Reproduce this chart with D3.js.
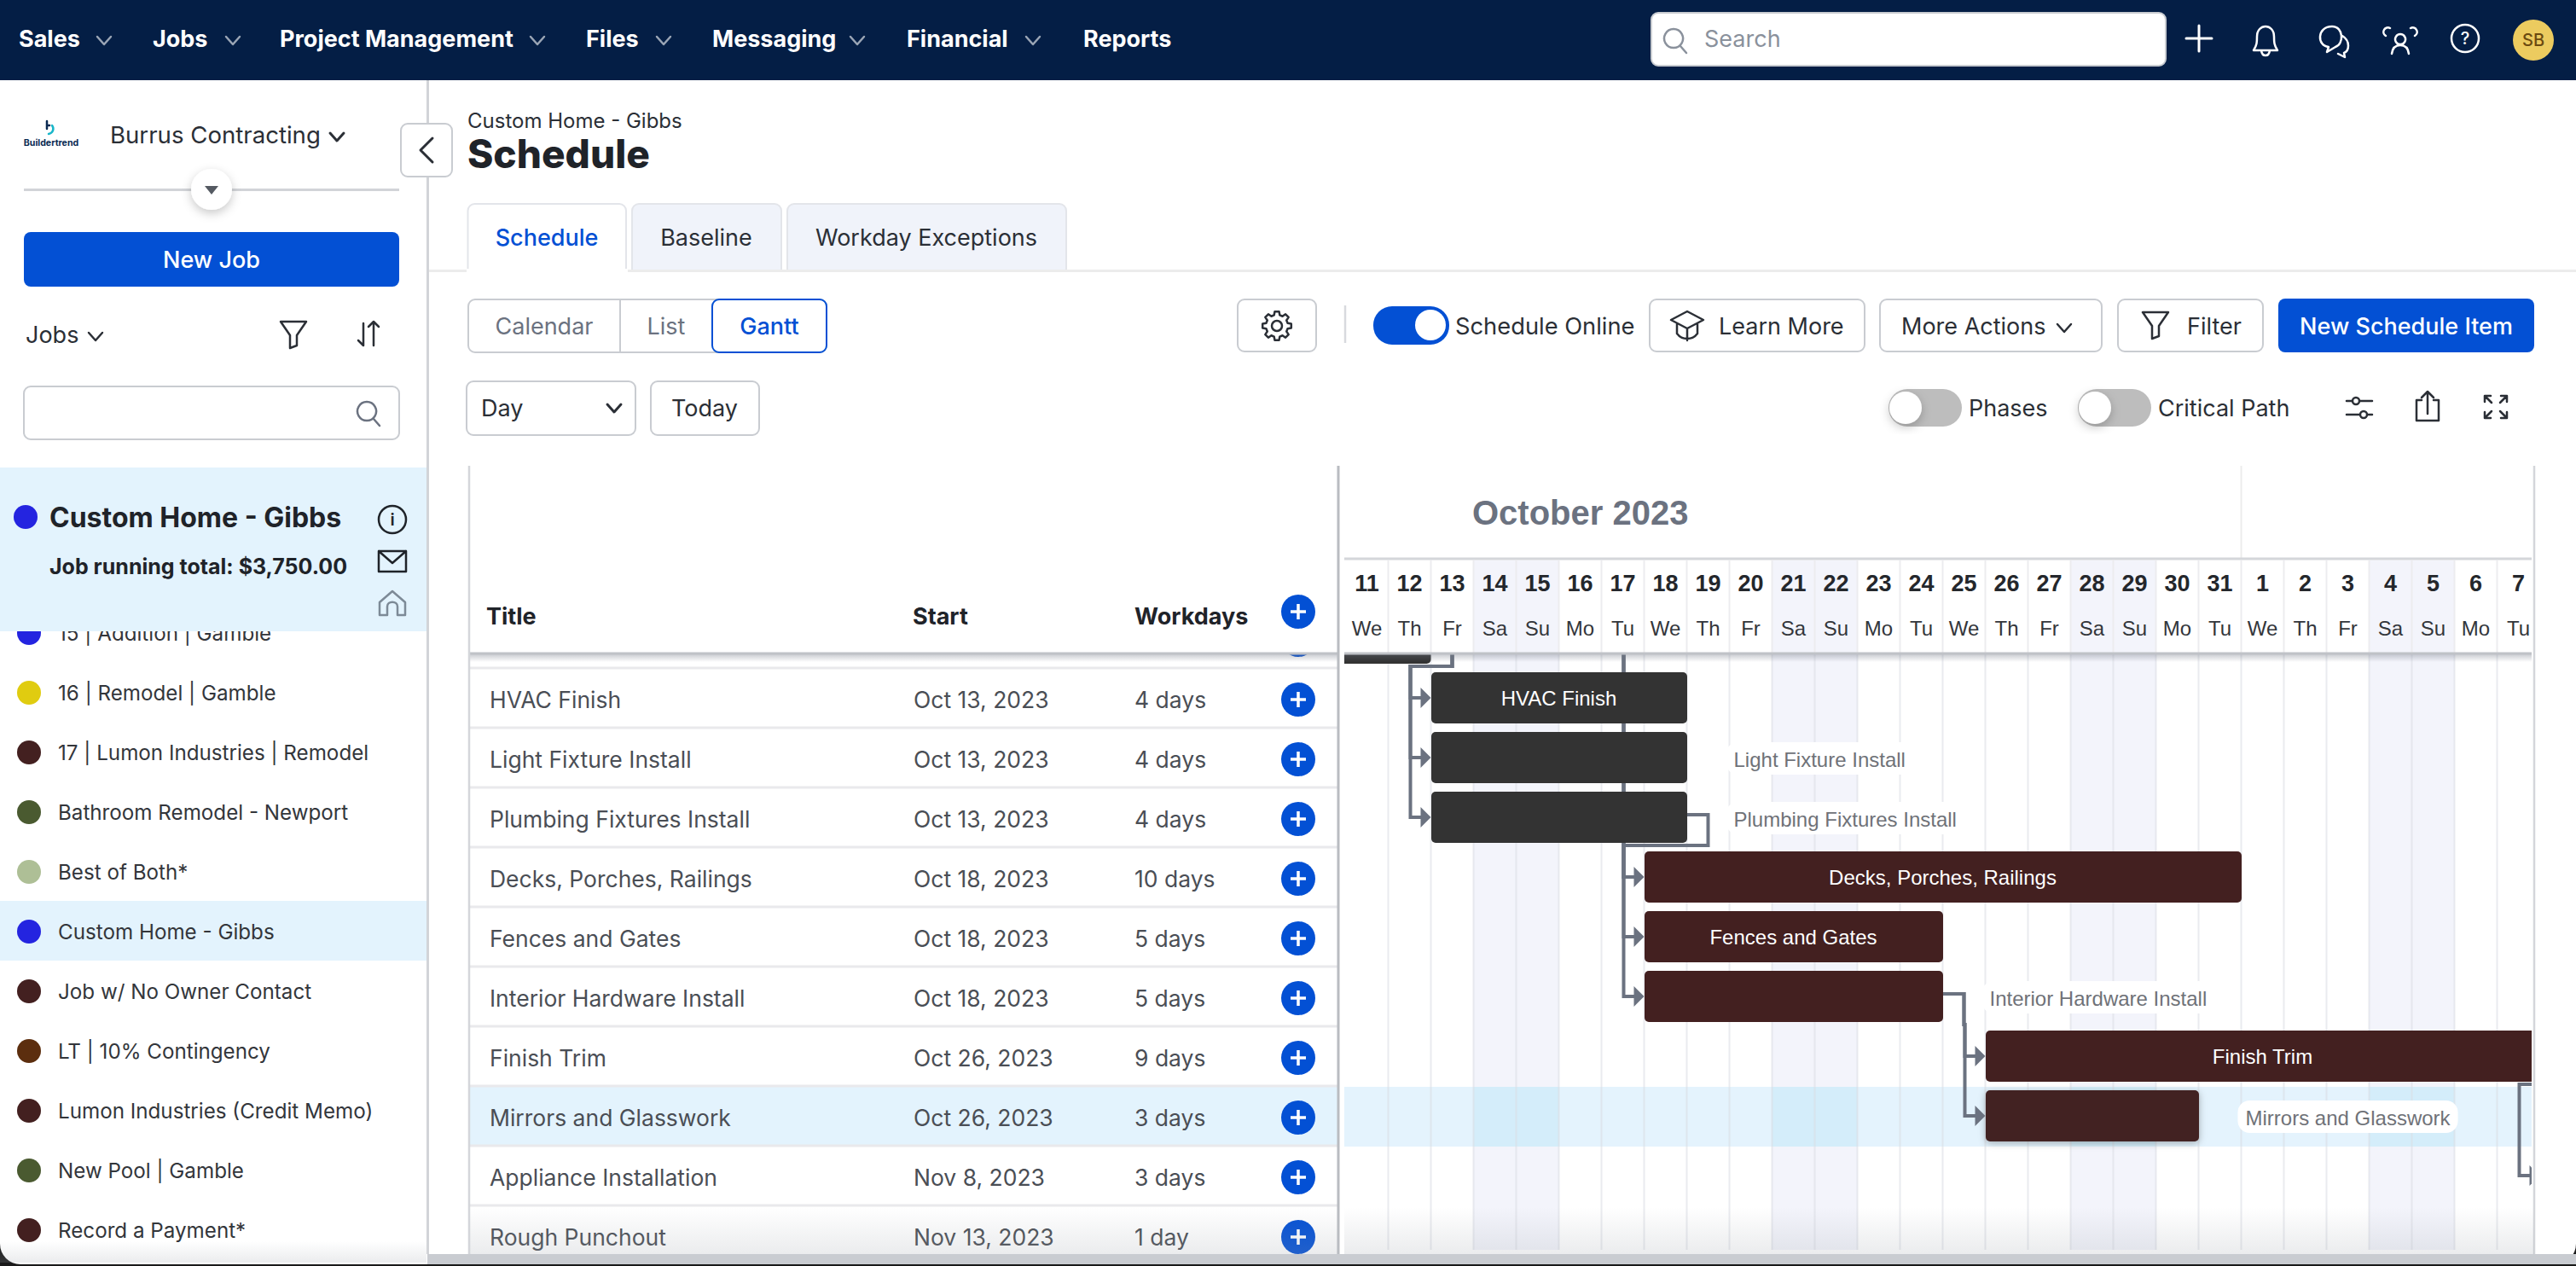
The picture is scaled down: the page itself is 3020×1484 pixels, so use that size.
<!DOCTYPE html>
<html>
<head>
  <meta charset="UTF-8">
  <style>
    html, body { margin: 0; padding: 0; background: #1a1a1a; overflow: hidden; }
    svg { display: block; }
    text { font-family: Inter, "Noto Sans", sans-serif; }
    .gantt text { font-family: "Liberation Sans", Arial, sans-serif; }
    .ico { fill: none; stroke-linecap: round; stroke-linejoin: round; }
  </style>
</head>
<body>
<svg></svg>
<script src="https://d3js.org/d3.v7.min.js"></script>

<script>

let width = 3020, height = 1484;

// schedule table
let rowTitles = ["HVAC Finish", "Light Fixture Install", "Plumbing Fixtures Install", "Decks, Porches, Railings", "Fences and Gates", "Interior Hardware Install", "Finish Trim", "Mirrors and Glasswork", "Appliance Installation", "Rough Punchout"];
let rowStarts = ["Oct 13, 2023", "Oct 13, 2023", "Oct 13, 2023", "Oct 18, 2023", "Oct 18, 2023", "Oct 18, 2023", "Oct 26, 2023", "Oct 26, 2023", "Nov 8, 2023", "Nov 13, 2023"];
let rowWorkdays = ["4 days", "4 days", "4 days", "10 days", "5 days", "5 days", "9 days", "3 days", "3 days", "1 day"];

// bars, end date is the morning after the last workday
let barEnds = ["Oct 19, 2023", "Oct 19, 2023", "Oct 19, 2023", "Nov 1, 2023", "Oct 25, 2023", "Oct 25, 2023", "Nov 8, 2023", "Oct 31, 2023", "Nov 13, 2023", "Nov 14, 2023"];
let barColors = ["#333333", "#333333", "#333333", "#432020", "#432020", "#432020", "#432020", "#432020", "#432020", "#432020"];
let labelInside = [true, false, false, true, true, false, true, false, false, false];

// bar above the visible rows, only its bottom edge shows
let hiddenBarEnd = "Oct 13, 2023";

// dependency links: source row, its end date, target rows
let linkSources = [-2, -1, 2, 5, 6];
let linkEnds = ["Oct 17, 2023", "Oct 13, 2023", "Oct 19, 2023", "Oct 25, 2023", "Nov 8, 2023"];
let linkTargets = [[3, 4, 5], [0, 1, 2], [3], [6, 7], [8]];

// time axis
let dayNumbers = [11, 12, 13, 14, 15, 16, 17, 18, 19, 20, 21, 22, 23, 24, 25, 26, 27, 28, 29, 30, 31, 1, 2, 3, 4, 5, 6, 7];
let dayNames = ["We", "Th", "Fr", "Sa", "Su", "Mo", "Tu", "We", "Th", "Fr", "Sa", "Su", "Mo", "Tu", "We", "Th", "Fr", "Sa", "Su", "Mo", "Tu", "We", "Th", "Fr", "Sa", "Su", "Mo", "Tu"];

// left job list
let jobNames = ["15 | Addition | Gamble", "16 | Remodel | Gamble", "17 | Lumon Industries | Remodel", "Bathroom Remodel - Newport", "Best of Both*", "Custom Home - Gibbs", "Job w/ No Owner Contact", "LT | 10% Contingency", "Lumon Industries (Credit Memo)", "New Pool | Gamble", "Record a Payment*"];
let jobColors = ["#2424e0", "#e0cc10", "#432020", "#4a5a30", "#aebf96", "#2424e0", "#432020", "#5c2e0e", "#432020", "#4a5a30", "#432020"];

// top nav
let navItems = ["Sales", "Jobs", "Project Management", "Files", "Messaging", "Financial", "Reports"];
let navX = [22, 179, 328, 687, 835, 1063, 1270];
let navChevronX = [122, 273, 630, 778, 1005, 1211, null];

let svg = d3.select("svg")
    .attr("width", width)
    .attr("height", height)
    .attr("viewBox", "0 0 " + width + " " + height);

let defs = svg.append("defs");

function addShadow(id, dy, blur, opacity) {
    defs.append("filter").attr("id", id)
        .attr("x", "-30%").attr("y", "-30%").attr("width", "160%").attr("height", "160%")
        .append("feDropShadow")
        .attr("dx", 0).attr("dy", dy).attr("stdDeviation", blur)
        .attr("flood-color", "#000").attr("flood-opacity", opacity);
}
addShadow("soft", 4, 6, 0.22);
addShadow("barShadow", 2, 4, 0.3);

defs.append("clipPath").attr("id", "ganttClip").append("rect")
    .attr("x", 1576).attr("y", 765).attr("width", 1392).attr("height", 705);
defs.append("clipPath").attr("id", "tableClip").append("rect")
    .attr("x", 551).attr("y", 765).attr("width", 1017).attr("height", 705);
defs.append("clipPath").attr("id", "listClip").append("rect")
    .attr("x", 0).attr("y", 740).attr("width", 500).attr("height", 740);

let fade = defs.append("linearGradient").attr("id", "bottomFade")
    .attr("x1", 0).attr("y1", 0).attr("x2", 0).attr("y2", 1);
fade.append("stop").attr("offset", "0%").attr("stop-color", "#9aa0a8").attr("stop-opacity", 0);
fade.append("stop").attr("offset", "100%").attr("stop-color", "#9aa0a8").attr("stop-opacity", 0.2);

let headerEdge = defs.append("linearGradient").attr("id", "headerEdge")
    .attr("x1", 0).attr("y1", 0).attr("x2", 0).attr("y2", 1);
headerEdge.append("stop").attr("offset", "0%").attr("stop-color", "#6b7280").attr("stop-opacity", 0.35);
headerEdge.append("stop").attr("offset", "100%").attr("stop-color", "#6b7280").attr("stop-opacity", 0);

function label(parent, x, y, str, size, fill, weight, anchor) {
    return parent.append("text")
        .attr("x", x).attr("y", y).attr("dy", "0.36em")
        .attr("font-size", size)
        .attr("fill", fill || "#2b2f36")
        .attr("font-weight", weight || 400)
        .attr("text-anchor", anchor || "start")
        .text(str);
}

function box(parent, x0, y0, x1, y1, fill, stroke, r) {
    return parent.append("rect")
        .attr("x", x0).attr("y", y0).attr("width", x1 - x0).attr("height", y1 - y0)
        .attr("rx", r === undefined ? 8 : r)
        .attr("fill", fill || "#fff")
        .attr("stroke", stroke || "none")
        .attr("stroke-width", stroke ? 2 : 0);
}

function icon(parent, x, y, d, stroke, sw) {
    return parent.append("path")
        .attr("class", "ico")
        .attr("transform", "translate(" + x + "," + y + ")")
        .attr("d", d)
        .attr("stroke", stroke || "#2b2f36")
        .attr("stroke-width", sw || 2.5);
}

let chevron = "M-8,-4 L0,5 L8,-4";
let filterPath = "M-15,-14 H15 L4,2 V14 L-4,17 V2 Z";
let searchPath = "M-2,-12 A11,11 0 1 0 -1.9,-12 Z M6,8 L13,16";

// gear outline for the settings button
let gearPoints = [];
d3.range(8).forEach(function(i) {
    let a = i * Math.PI / 4;
    gearPoints.push([a - 0.26, 13], [a - 0.15, 17], [a + 0.15, 17], [a + 0.26, 13]);
});
let gearPath = d3.lineRadial().curve(d3.curveLinearClosed)(gearPoints);

// page
svg.append("rect").attr("width", width).attr("height", height).attr("fill", "#1a1a1a");
svg.append("rect").attr("x", 0).attr("y", -40).attr("width", width).attr("height", 1522).attr("rx", 24).attr("fill", "#fff");

// ---------- main header ----------
let main = svg.append("g");
label(main, 548, 141, "Custom Home - Gibbs", 24, "#2b2f36");
label(main, 548, 180, "Schedule", 46, "#1f2329", 800);

box(main, 548.5, 239, 734, 330, "#fff", "#e3e5ea");
box(main, 741, 239, 916, 330, "#f0f3fa", "#e3e5ea");
box(main, 923, 239, 1250, 330, "#f0f3fa", "#e3e5ea");
main.append("rect").attr("x", 501).attr("y", 316).attr("width", 2519).attr("height", 3).attr("fill", "#ececec");
main.append("rect").attr("x", 547).attr("y", 315).attr("width", 189).attr("height", 30).attr("fill", "#fff");
main.append("rect").attr("x", 739).attr("y", 319).attr("width", 520).attr("height", 30).attr("fill", "#fff");
label(main, 641, 278, "Schedule", 27, "#0350d4", 500, "middle");
label(main, 828, 278, "Baseline", 27, "#2b2f36", 400, "middle");
label(main, 1086, 278, "Workday Exceptions", 27, "#2b2f36", 400, "middle");

box(main, 549, 351, 969, 413, "#fff", "#c9ccd1");
main.append("line").attr("x1", 727).attr("x2", 727).attr("y1", 351).attr("y2", 413).attr("stroke", "#c9ccd1").attr("stroke-width", 2);
box(main, 835, 351, 969, 413, "#fff", "#0350d4");
label(main, 638, 382, "Calendar", 27, "#6b7280", 400, "middle");
label(main, 781, 382, "List", 27, "#6b7280", 400, "middle");
label(main, 902, 382, "Gantt", 27, "#0350d4", 500, "middle");

box(main, 547, 447, 745, 510, "#fff", "#c9ccd1");
label(main, 564, 478, "Day", 27, "#2b2f36");
icon(main, 720, 478, chevron, "#2b2f36", 3);
box(main, 763, 447, 890, 510, "#fff", "#c9ccd1");
label(main, 826, 478, "Today", 27, "#2b2f36", 400, "middle");

// toolbar
box(main, 1451, 351, 1543, 412, "#fff", "#c9ccd1");
main.append("circle").attr("cx", 1497).attr("cy", 382).attr("r", 6).attr("fill", "none").attr("stroke", "#2b2f36").attr("stroke-width", 2.5);
icon(main, 1497, 382, gearPath);
main.append("line").attr("x1", 1577).attr("x2", 1577).attr("y1", 358).attr("y2", 402).attr("stroke", "#d8dade").attr("stroke-width", 2.5);
main.append("rect").attr("x", 1610).attr("y", 359).attr("width", 89).attr("height", 45).attr("rx", 22).attr("fill", "#0350d4");
main.append("circle").attr("cx", 1677).attr("cy", 381).attr("r", 18).attr("fill", "#fff");
label(main, 1706, 382, "Schedule Online", 27.3, "#2b2f36");

box(main, 1934, 351, 2186, 412, "#fff", "#c9ccd1");
icon(main, 1978, 382, "M-19,-7 L0,-17 L19,-7 L0,3 Z M-12,-2 V9 C-6,17 6,17 12,9 V-2 M0,3 V17");
label(main, 2015, 382, "Learn More", 27, "#2b2f36");
box(main, 2204, 351, 2464, 412, "#fff", "#c9ccd1");
label(main, 2229, 382, "More Actions", 27, "#2b2f36");
icon(main, 2420, 384, chevron, "#2b2f36", 2.5);
box(main, 2483, 351, 2653, 412, "#fff", "#c9ccd1");
icon(main, 2527, 380, filterPath);
label(main, 2564, 382, "Filter", 27, "#2b2f36");
box(main, 2671, 350, 2971, 413, "#0350d4");
label(main, 2821, 382, "New Schedule Item", 27, "#fff", 500, "middle");

// toggles
[[2214, 2234, 2308, "Phases"], [2436, 2456, 2530, "Critical Path"]].forEach(function(t) {
    main.append("rect").attr("x", t[0]).attr("y", 456).attr("width", 86).attr("height", 44).attr("rx", 22).attr("fill", "#bdbdbd");
    main.append("circle").attr("cx", t[1]).attr("cy", 478).attr("r", 19).attr("fill", "#fff").attr("filter", "url(#soft)");
    label(main, t[2], 478, t[3], 27, "#2b2f36");
});
icon(main, 2766, 478, "M-15,-8 H15 M-15,8 H15");
main.append("circle").attr("cx", 2762).attr("cy", 470).attr("r", 4).attr("fill", "#fff").attr("stroke", "#2b2f36").attr("stroke-width", 2.5);
main.append("circle").attr("cx", 2771).attr("cy", 486).attr("r", 4).attr("fill", "#fff").attr("stroke", "#2b2f36").attr("stroke-width", 2.5);
icon(main, 2846, 477, "M-7,-8 H-13 V16 H13 V-8 H7 M0,8 V-18 M-7,-11 L0,-18 L7,-11");
icon(main, 2926, 477, "M-13,-6 V-13 H-6 M-13,-13 L-5,-5 M13,-6 V-13 H6 M13,-13 L5,-5 M-13,6 V13 H-6 M-13,13 L-5,5 M13,6 V13 H6 M13,13 L5,5");

// ---------- gantt ----------
let parseDay = d3.utcParse("%b %d, %Y");

let x = d3.scaleUtc()
    .domain([parseDay("Oct 11, 2023"), parseDay("Nov 8, 2023")])
    .range([1577.5, 2977.5]);

let dayBand = d3.scaleBand()
    .domain(d3.range(dayNumbers.length))
    .range(x.range());

let rowTop = d3.scaleLinear().domain([0, 1]).range([783, 853]);
let rowMid = i => rowTop(i) + 35;

let gantt = svg.append("g").attr("class", "gantt");

// month header
gantt.append("line").attr("x1", 2627.5).attr("x2", 2627.5).attr("y1", 546).attr("y2", 655).attr("stroke", "#ececec").attr("stroke-width", 2);
gantt.append("line").attr("x1", 2971).attr("x2", 2971).attr("y1", 546).attr("y2", 1471).attr("stroke", "#d4d6da").attr("stroke-width", 2.5);
label(gantt, 1726, 601, "October 2023", 40, "#6b7280", 700);

// columns
let weekendDays = d3.range(dayNumbers.length).filter(i => dayNames[i] === "Sa" || dayNames[i] === "Su");
let highlightY = rowTop(7) + 1;

let columns = gantt.append("g").attr("clip-path", "url(#ganttClip)");
let headerCols = gantt.append("g");

columns.selectAll("rect.weekend").data(weekendDays).enter().append("rect")
    .attr("class", "weekend")
    .attr("x", i => dayBand(i)).attr("width", dayBand.bandwidth())
    .attr("y", 765).attr("height", 700).attr("fill", "#f3f4fb");

// highlighted row, its weekend cells are a stronger blue
columns.append("rect").attr("x", 1576).attr("y", highlightY).attr("width", 1392).attr("height", 70).attr("fill", "#e4f3fd");
columns.selectAll("rect.hlWeekend").data(weekendDays).enter().append("rect")
    .attr("class", "hlWeekend")
    .attr("x", i => dayBand(i)).attr("width", dayBand.bandwidth())
    .attr("y", highlightY).attr("height", 70).attr("fill", "#d4edfa");

columns.selectAll("line.grid").data(d3.range(1, dayNumbers.length)).enter().append("line")
    .attr("class", "grid")
    .attr("x1", i => dayBand(i)).attr("x2", i => dayBand(i))
    .attr("y1", 765).attr("y2", 1465)
    .attr("stroke", "#d9dbe2").attr("stroke-opacity", 0.55).attr("stroke-width", 2);

// dependency links
let linkColor = "#6b7280";
let links = columns.append("g");
linkSources.forEach(function(src, k) {
    let sx = x(parseDay(linkEnds[k]));
    let sy = rowMid(src) - 3;
    let bendY = rowTop(src + 1) - 2;
    linkTargets[k].forEach(function(t) {
        let tx = x(parseDay(rowStarts[t]));
        let path = d3.path();
        path.moveTo(sx, sy);
        path.lineTo(sx + 25, sy);
        path.lineTo(sx + 25, bendY);
        path.lineTo(tx - 24, bendY);
        path.lineTo(tx - 24, rowMid(t));
        path.lineTo(tx - 6, rowMid(t));
        links.append("path").attr("d", path.toString())
            .attr("fill", "none").attr("stroke", linkColor).attr("stroke-width", 4);
    });
});

// bars
let barRows = d3.range(rowTitles.length);
columns.append("rect")
    .attr("x", x(parseDay("Oct 9, 2023")))
    .attr("width", x(parseDay(hiddenBarEnd)) - x(parseDay("Oct 9, 2023")))
    .attr("y", rowTop(-1) + 5).attr("height", 60).attr("rx", 5).attr("fill", "#333333");

columns.selectAll("rect.bar").data(barRows).enter().append("rect")
    .attr("class", "bar")
    .attr("x", i => x(parseDay(rowStarts[i])) + 0.5)
    .attr("width", i => x(parseDay(barEnds[i])) - x(parseDay(rowStarts[i])))
    .attr("y", i => rowTop(i) + 5)
    .attr("height", 60)
    .attr("rx", 5)
    .attr("fill", i => barColors[i])
    .attr("filter", i => i === 7 ? "url(#barShadow)" : null);

// arrow heads
let arrowRows = [];
linkTargets.forEach(list => list.forEach(t => { if (!arrowRows.includes(t)) arrowRows.push(t); }));
columns.selectAll("path.arrow").data(arrowRows).enter().append("path")
    .attr("class", "arrow")
    .attr("transform", t => "translate(" + x(parseDay(rowStarts[t])) + "," + rowMid(t) + ")")
    .attr("d", "M0,0 L-12,-12 L-12,12 Z")
    .attr("fill", linkColor);

// bar labels
barRows.filter(i => labelInside[i]).forEach(function(i) {
    let x0 = x(parseDay(rowStarts[i])), x1 = x(parseDay(barEnds[i]));
    label(columns, (x0 + x1) / 2, rowMid(i), rowTitles[i], 24, "#fff", 400, "middle");
});
barRows.filter(i => !labelInside[i] && x(parseDay(barEnds[i])) < 2900).forEach(function(i) {
    let tx = x(parseDay(barEnds[i])) + 55;
    let bg = columns.append("rect").attr("fill", "#fff").attr("rx", 14);
    let t = label(columns, tx, rowMid(i) + 2.5, rowTitles[i], 24, "#6f7278");
    let w = t.node().getComputedTextLength();
    bg.attr("x", tx - 9).attr("y", rowMid(i) - 18).attr("width", w + 18).attr("height", 38);
});

// day header
headerCols.append("rect").attr("x", 1576).attr("y", 655).attr("width", 1392).attr("height", 110).attr("fill", "#fff");
headerCols.append("rect").attr("x", 1576).attr("y", 767).attr("width", 1392).attr("height", 9).attr("fill", "url(#headerEdge)");
headerCols.selectAll("rect.hwk").data(weekendDays).enter().append("rect")
    .attr("class", "hwk")
    .attr("x", i => dayBand(i)).attr("width", dayBand.bandwidth())
    .attr("y", 657).attr("height", 108).attr("fill", "#f3f4fb");
headerCols.selectAll("line.hgrid").data(d3.range(1, dayNumbers.length)).enter().append("line")
    .attr("class", "hgrid")
    .attr("x1", i => dayBand(i)).attr("x2", i => dayBand(i))
    .attr("y1", 657).attr("y2", 765)
    .attr("stroke", "#ececef").attr("stroke-width", 2);
headerCols.append("line").attr("x1", 1576).attr("x2", 2968).attr("y1", 655).attr("y2", 655).attr("stroke", "#d4d6da").attr("stroke-width", 3);
headerCols.append("line").attr("x1", 1576).attr("x2", 2968).attr("y1", 766).attr("y2", 766).attr("stroke", "#bfc2c7").attr("stroke-width", 3);

let numberAxis = d3.axisTop(dayBand).tickSize(0).tickFormat(i => dayNumbers[i]);
let nameAxis = d3.axisTop(dayBand).tickSize(0).tickFormat(i => dayNames[i]);

let gNum = headerCols.append("g").attr("transform", "translate(0,683)").call(numberAxis);
gNum.select(".domain").remove();
gNum.selectAll("text").attr("font-size", 27).attr("font-weight", 700).attr("fill", "#24272c").attr("dy", "0.36em").attr("y", 0);

let gName = headerCols.append("g").attr("transform", "translate(0,736)").call(nameAxis);
gName.select(".domain").remove();
gName.selectAll("text").attr("font-size", 24).attr("fill", "#33363b").attr("dy", "0.36em").attr("y", 0);

gantt.append("rect").attr("x", 1576).attr("y", 1415).attr("width", 1395).attr("height", 55).attr("fill", "url(#bottomFade)");

// ---------- table ----------
let table = svg.append("g");
let tableRows = table.append("g").attr("clip-path", "url(#tableClip)");

tableRows.append("rect").attr("x", 551).attr("y", highlightY).attr("width", 1017).attr("height", 70).attr("fill", "#e3f3fd");

tableRows.selectAll("line.sep").data(d3.range(0, 10)).enter().append("line")
    .attr("class", "sep")
    .attr("x1", 551).attr("x2", 1568)
    .attr("y1", i => rowTop(i)).attr("y2", i => rowTop(i))
    .attr("stroke", "#e9e9ec").attr("stroke-width", 3);

barRows.forEach(function(i) {
    label(tableRows, 574, rowMid(i) + 2, rowTitles[i], 26.5, "#4a4e55");
    label(tableRows, 1071, rowMid(i) + 2, rowStarts[i], 26.5, "#4a4e55");
    label(tableRows, 1330, rowMid(i) + 2, rowWorkdays[i], 26.5, "#4a4e55");
});

function plusButton(parent, cy) {
    parent.append("circle").attr("cx", 1522).attr("cy", cy).attr("r", 20).attr("fill", "#0350d4");
    parent.append("path").attr("d", "M1522," + (cy - 9) + " V" + (cy + 9) + " M1513," + cy + " H1531")
        .attr("stroke", "#fff").attr("stroke-width", 3.5);
}
d3.range(-1, 10).forEach(i => plusButton(tableRows, rowMid(i) + 2));

table.append("rect").attr("x", 550).attr("y", 546).attr("width", 1019).attr("height", 219).attr("fill", "#fff");
table.append("rect").attr("x", 550).attr("y", 767).attr("width", 1019).attr("height", 9).attr("fill", "url(#headerEdge)");
table.append("line").attr("x1", 550).attr("x2", 1569).attr("y1", 766).attr("y2", 766).attr("stroke", "#bfc2c7").attr("stroke-width", 3);
table.append("line").attr("x1", 550).attr("x2", 550).attr("y1", 546).attr("y2", 1471).attr("stroke", "#d4d6da").attr("stroke-width", 2.5);
table.append("line").attr("x1", 1569).attr("x2", 1569).attr("y1", 546).attr("y2", 1471).attr("stroke", "#b9bcc1").attr("stroke-width", 3);
label(table, 570, 722, "Title", 27, "#1f2329", 700);
label(table, 1070, 722, "Start", 27, "#1f2329", 700);
label(table, 1330, 722, "Workdays", 27, "#1f2329", 700);
plusButton(table, 717);

table.append("rect").attr("x", 551).attr("y", 1415).attr("width", 1017).attr("height", 55).attr("fill", "url(#bottomFade)");

// ---------- left sidebar ----------
let side = svg.append("g");
side.append("rect").attr("x", 500).attr("y", 94).attr("width", 3).attr("height", 1376).attr("fill", "#d2d4d8");

// logo
icon(side, 58, 149, "M-3,-7 V2 M-3,-2 H0", "#0a2a52", 2.5);
icon(side, 58, 149, "M3,-2 C6,2 4,7 -1,8", "#18b6c9", 2.5);
label(side, 60, 167, "Buildertrend", 10.6, "#0a2a52", 700, "middle");
label(side, 129, 158, "Burrus Contracting", 27.6, "#2b2f36");
icon(side, 395, 160, chevron, "#2b2f36", 3);

side.append("rect").attr("x", 28).attr("y", 221).attr("width", 440).attr("height", 3).attr("fill", "#d2d4d8");
side.append("circle").attr("cx", 248).attr("cy", 222).attr("r", 24).attr("fill", "#fff").attr("filter", "url(#soft)");
side.append("path").attr("d", "M240,218 H256 L248,228 Z").attr("fill", "#555a62");

box(side, 28, 272, 468, 336, "#0350d4");
label(side, 248, 304, "New Job", 27, "#fff", 500, "middle");
label(side, 30, 392, "Jobs", 27, "#2b2f36");
icon(side, 112, 394, chevron, "#2b2f36", 2.5);
icon(side, 344, 391, filterPath);
icon(side, 432, 391, "M-6,-12 V14 M-12,8 L-6,14 M6,14 V-14 M0,-8 L6,-14 L12,-8");
box(side, 28, 453, 468, 515, "#fff", "#c9ccd1");
icon(side, 432, 483, searchPath, "#6b7280", 2.5);

// job list
let listRowY = d3.scaleLinear().domain([0, 1]).range([741, 811]);
let list = side.append("g").attr("clip-path", "url(#listClip)");
list.append("rect").attr("x", 0).attr("y", listRowY(5) - 35).attr("width", 500).attr("height", 70).attr("fill", "#e3f3fd");
list.selectAll("circle").data(d3.range(jobNames.length)).enter().append("circle")
    .attr("cx", 34).attr("cy", i => listRowY(i) + 1).attr("r", 14).attr("fill", i => jobColors[i]);
jobNames.forEach((name, i) => label(list, 68, listRowY(i) + 1.5, name, 24.2, "#33363b"));

side.append("rect").attr("x", 0).attr("y", 548).attr("width", 500).attr("height", 192).attr("fill", "#e3f3fd");
side.append("circle").attr("cx", 30).attr("cy", 606).attr("r", 14).attr("fill", "#2424e0");
label(side, 58, 606, "Custom Home - Gibbs", 32, "#1f2329", 700);
label(side, 58, 664, "Job running total: $3,750.00", 25, "#1f2329", 700);
side.append("circle").attr("cx", 460).attr("cy", 609).attr("r", 16).attr("fill", "none").attr("stroke", "#1f2329").attr("stroke-width", 2.5);
label(side, 460, 609, "i", 20, "#1f2329", 600, "middle");
icon(side, 460, 658, "M-16,-12 H16 V12 H-16 Z M-16,-12 L0,2 L16,-12", "#1f2329");
icon(side, 460, 708, "M-15,-2 L0,-15 L15,-2 V13 H6 V3 C6,-4 -6,-4 -6,3 V13 H-15 Z", "#7d8a97");

side.append("rect").attr("x", 0).attr("y", 1455).attr("width", 500).attr("height", 25).attr("fill", "url(#bottomFade)");

// collapse button
box(side, 470, 145, 530, 207, "#fff", "#c9ccd1");
icon(side, 500, 176, "M7,-14 L-7,0 L7,14", "#2b2f36", 3);

// bottom scroll bar strip
svg.append("rect").attr("x", 501).attr("y", 1470).attr("width", 2519).attr("height", 12).attr("fill", "#c9ccd1");

// ---------- nav ----------
let nav = svg.append("g");
nav.append("rect").attr("width", width).attr("height", 94).attr("fill", "#041e45");
navItems.forEach(function(name, i) {
    label(nav, navX[i], 45, name, 27, "#fff", 700);
    if (navChevronX[i] !== null) icon(nav, navChevronX[i], 47, chevron, "#9aa5b5", 2.5);
});
box(nav, 1936, 15, 2539, 77, "#fff", "#c9ccd1");
icon(nav, 1964, 46, searchPath, "#8a919c", 2.5);
label(nav, 1998, 45, "Search", 27, "#8a919c");
icon(nav, 2578, 45, "M0,-15 V15 M-15,0 H15", "#fff", 3);
icon(nav, 2656, 47, "M-14,12 C-10,6 -10,2 -10,-4 C-10,-20 10,-20 10,-4 C10,2 10,6 14,12 Z M-5,12 C-4,20 4,20 5,12", "#fff");
icon(nav, 2734, 46, "M0,-15 C-18,-15 -18,8 -4,9 L-6,15 L4,9 C14,6 14,-15 0,-15 Z M12,-4 C22,2 20,14 14,16 L15,21 L7,17", "#fff");
icon(nav, 2814, 46, "M0,-6 A6,6 0 1 0 0.1,-6 Z M-10,17 C-9,9 -5,7 0,7 C5,7 9,9 10,17 M-12,-13 A5,5 0 1 0 -17,-4 M12,-13 A5,5 0 1 1 17,-4", "#fff");
nav.append("circle").attr("cx", 2890).attr("cy", 45).attr("r", 16).attr("fill", "none").attr("stroke", "#fff").attr("stroke-width", 2.5);
label(nav, 2890, 45, "?", 20, "#fff", 500, "middle");
nav.append("circle").attr("cx", 2970).attr("cy", 47).attr("r", 24).attr("fill", "#eccb5f");
label(nav, 2970, 47, "SB", 20, "#6b4a10", 500, "middle");

</script>

</body>
</html>
